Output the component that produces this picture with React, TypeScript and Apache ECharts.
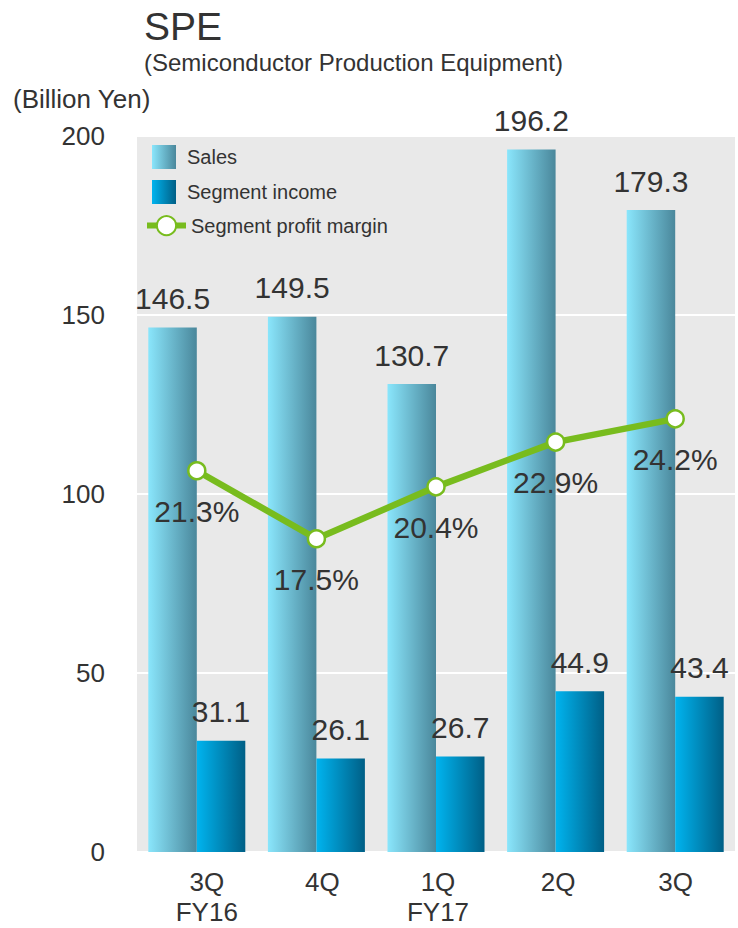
import React, { useEffect, useRef } from "react";
import * as echarts from "echarts";

const categories = ["3Q\nFY16", "4Q", "1Q\nFY17", "2Q", "3Q"];
const salesValues = [146.5, 149.5, 130.7, 196.2, 179.3];
const incomeValues = [31.1, 26.1, 26.7, 44.9, 43.4];
const marginValues = [21.3, 17.5, 20.4, 22.9, 24.2];
const yTicks = { min: 0, max: 200, interval: 50 };

const FONT = "'Liberation Sans', Arial, sans-serif";
const TXT = "#333333";
const labelShift = [20, 12, 4, 5, 1];

export default function App() {
  const ref = useRef<HTMLDivElement>(null);
  useEffect(() => {
    if (!ref.current) return;
    const chart = echarts.init(ref.current, undefined, { renderer: "svg" });
    const salesGrad = new echarts.graphic.LinearGradient(0, 0, 1, 0, [
      { offset: 0, color: "#8AE6FC" },
      { offset: 1, color: "#4A879B" },
    ]);
    const incomeGrad = new echarts.graphic.LinearGradient(0, 0, 1, 0, [
      { offset: 0, color: "#00B4EF" },
      { offset: 1, color: "#005F86" },
    ]);
    const rich: Record<string, any> = {};
    labelShift.forEach((s, i) => {
      rich["c" + i] = { fontSize: 26, color: TXT, lineHeight: 30, fontFamily: FONT, padding: [0, 0, 0, s] };
    });
    chart.setOption({
      animation: false,
      textStyle: { fontFamily: FONT, color: TXT },
      graphic: [
        { type: "text", left: 144, top: 7, style: { text: "SPE", font: `39px ${FONT}`, fill: TXT } },
        {
          type: "text",
          left: 144,
          top: 50,
          style: { text: "(Semiconductor Production Equipment)", font: `24px ${FONT}`, fill: TXT },
        },
        { type: "text", left: 13, top: 86, style: { text: "(Billion Yen)", font: `26px ${FONT}`, fill: TXT } },
      ],
      grid: {
        left: 137,
        right: 3,
        top: 136,
        bottom: 76,
        show: true,
        backgroundColor: "#E9E9E9",
        borderWidth: 0,
      },
      legend: [
        {
          orient: "vertical",
          left: 152,
          top: 145,
          padding: 0,
          icon: "rect",
          itemWidth: 24,
          itemHeight: 24,
          itemGap: 11,
          data: ["Sales", "Segment income"],
          textStyle: { fontSize: 20, color: TXT, fontFamily: FONT, padding: [0, 0, 0, 6] },
        },
        {
          orient: "vertical",
          left: 144,
          top: 215,
          padding: 0,
          itemWidth: 39,
          itemHeight: 24,
          itemGap: 11,
          data: ["Segment profit margin"],
          lineStyle: { width: 6 },
          textStyle: { fontSize: 20, color: TXT, fontFamily: FONT, padding: [0, 0, 0, 0] },
        },
      ],
      xAxis: {
        type: "category",
        data: categories,
        axisLine: { show: false },
        axisTick: { show: false },
        axisLabel: {
          interval: 0,
          hideOverlap: false,
          fontSize: 26,
          color: TXT,
          lineHeight: 30,
          margin: 15,
          fontFamily: FONT,
          formatter: (v: string, i: number) =>
            v
              .split("\n")
              .map((l) => `{c${i}|${l}}`)
              .join("\n"),
          rich,
        },
      },
      yAxis: [
        {
          type: "value",
          min: yTicks.min,
          max: yTicks.max,
          interval: yTicks.interval,
          axisLine: { show: false },
          axisTick: { show: false },
          axisLabel: { fontSize: 26, color: TXT, margin: 32, fontFamily: FONT },
          splitLine: { show: true, lineStyle: { color: "#FFFFFF", width: 2 } },
        },
        { type: "value", min: 0, max: 40, show: false, splitLine: { show: false } },
      ],
      series: [
        {
          name: "Sales",
          type: "bar",
          data: salesValues,
          barWidth: 48.5,
          barGap: "0%",
          itemStyle: { color: salesGrad },
          label: {
            show: true,
            position: "top",
            distance: 14,
            fontSize: 30,
            color: TXT,
            fontFamily: FONT,
          },
        },
        {
          name: "Segment income",
          type: "bar",
          data: incomeValues,
          barWidth: 48.5,
          barGap: "0%",
          itemStyle: { color: incomeGrad },
          label: {
            show: true,
            position: "top",
            distance: 14,
            fontSize: 30,
            color: TXT,
            fontFamily: FONT,
          },
        },
        {
          name: "Segment profit margin",
          type: "line",
          yAxisIndex: 1,
          data: marginValues,
          symbol: "circle",
          symbolSize: 17,
          z: 5,
          lineStyle: { color: "#78BC1E", width: 6.5 },
          itemStyle: { color: "#FFFFFF", borderColor: "#78BC1E", borderWidth: 2.5 },
          label: {
            show: true,
            position: "bottom",
            distance: 16,
            fontSize: 30,
            color: TXT,
            fontFamily: FONT,
            formatter: "{c}%",
          },
        },
      ],
    });
    return () => chart.dispose();
  }, []);
  return <div ref={ref} style={{ width: 738, height: 928, position: "absolute", left: 0, top: 0 }} />;
}
